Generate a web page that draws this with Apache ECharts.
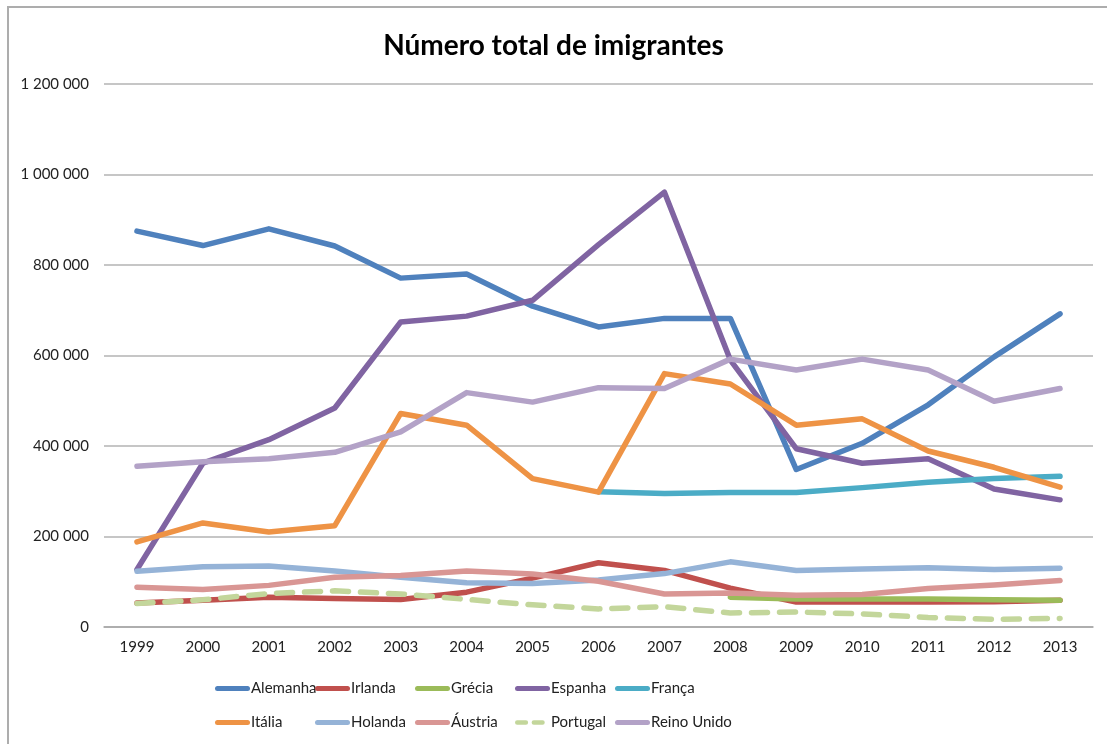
<!DOCTYPE html>
<html>
<head>
<meta charset="utf-8">
<script src="https://cdn.jsdelivr.net/npm/echarts@6/dist/echarts.min.js"></script>
<style>
  html, body { margin: 0; padding: 0; background: #ffffff; }
  #chart { width: 1107px; height: 744px; }
</style>
</head>
<body>
<div id="chart"></div>
<script>
// Anos
const years = ['1999','2000','2001','2002','2003','2004','2005','2006','2007','2008','2009','2010','2011','2012','2013'];

// Número total de imigrantes por país
const alemanha   = [875000, 843000, 880000, 842000, 771000, 780000, 709000, 663000, 682000, 682000, 348000, 406000, 491000, 597000, 692000];
const irlanda    = [53000, 59000, 66000, 63000, 61000, 77000, 108000, 142000, 125000, 86000, 55000, 55000, 55000, 56000, 59000];
const grecia     = [null, null, null, null, null, null, null, null, null, 66000, 62000, 62000, 62000, 60000, 59000];
const espanha    = [127000, 362000, 414000, 484000, 674000, 687000, 722000, 845000, 961000, 590000, 394000, 362000, 372000, 305000, 281000];
const franca     = [null, null, null, null, null, null, null, 299000, 295000, 297000, 297000, 308000, 320000, 328000, 333000];
const italia     = [188000, 230000, 210000, 224000, 472000, 446000, 328000, 298000, 560000, 537000, 446000, 460000, 389000, 353000, 309000];
const holanda    = [123000, 133000, 135000, 124000, 110000, 98000, 96000, 104000, 118000, 144000, 125000, 128000, 131000, 127000, 130000];
const austria    = [88000, 83000, 92000, 110000, 114000, 124000, 117000, 101000, 73000, 75000, 70000, 72000, 85000, 93000, 103000];
const portugal   = [52000, 60000, 74000, 80000, 73000, 61000, 49000, 40000, 45000, 31000, 33000, 29000, 21000, 17000, 19000];
const reinoUnido = [355000, 365000, 372000, 386000, 431000, 518000, 497000, 529000, 527000, 592000, 568000, 592000, 568000, 499000, 527000];

const yTicks = [0, 200000, 400000, 600000, 800000, 1000000, 1200000];

const seriesDefs = [
  { name: 'Alemanha',    data: alemanha,   color: '#4F81BD' },
  { name: 'Irlanda',     data: irlanda,    color: '#C0504D' },
  { name: 'Grécia',      data: grecia,     color: '#9BBB59' },
  { name: 'Espanha',     data: espanha,    color: '#8064A2' },
  { name: 'França',      data: franca,     color: '#4BACC6' },
  { name: 'Itália',      data: italia,     color: '#EE9345' },
  { name: 'Holanda',     data: holanda,    color: '#95B3D7' },
  { name: 'Áustria',     data: austria,    color: '#D99694' },
  { name: 'Portugal',    data: portugal,   color: '#C3D69B', dashed: true },
  { name: 'Reino Unido', data: reinoUnido, color: '#B3A2C7' }
];

const FONT = 'Lato, "Open Sans", sans-serif';

// legend swatches: a thick bar, or two short dashes for the dashed series
const ICON_SOLID = 'path://M2.5,0 L32.5,0 Q35,0 35,2.5 Q35,5 32.5,5 L2.5,5 Q0,5 0,2.5 Q0,0 2.5,0 Z';
const ICON_DASHED = 'path://M2.5,0 L12.5,0 Q15,0 15,2.5 Q15,5 12.5,5 L2.5,5 Q0,5 0,2.5 Q0,0 2.5,0 Z M21.5,0 L31.5,0 Q34,0 34,2.5 Q34,5 31.5,5 L21.5,5 Q19,5 19,2.5 Q19,0 21.5,0 Z M40,0 L40,5 L40,5 Z';

function fmt(v) {
  return String(v).replace(/\B(?=(\d{3})+(?!\d))/g, ' ');
}

// one legend block per entry, laid out on a 5-column, 2-row grid
const legends = seriesDefs.map((s, i) => ({
  data: [{ name: s.name, icon: s.dashed ? ICON_DASHED : ICON_SOLID }],
  left: 215 + (i % 5) * 100,
  top: i < 5 ? 681 : 715,
  padding: 0,
  itemWidth: 35,
  itemHeight: 5,
  itemGap: 0,
  selectedMode: false,
  itemStyle: { color: s.color, borderWidth: 0 },
  textStyle: { fontFamily: FONT, fontSize: 15, color: '#222', padding: [0, 0, 0, -4] }
}));

const chart = echarts.init(document.getElementById('chart'), null, { renderer: 'canvas' });

chart.setOption({
  animation: false,
  backgroundColor: '#ffffff',
  title: {
    text: 'Número total de imigrantes',
    left: 'center',
    top: 27,
    textStyle: { fontFamily: FONT, fontSize: 28, fontWeight: 'bold', color: '#000' }
  },
  graphic: [
    {
      type: 'rect',
      shape: { x: 8, y: 7, width: 1130, height: 780 },
      style: { fill: 'none', stroke: '#adadad', lineWidth: 2 },
      silent: true
    }
  ],
  legend: legends,
  grid: { left: 104, right: 14, top: 84, bottom: 117, containLabel: false },
  xAxis: {
    type: 'category',
    data: years,
    boundaryGap: true,
    axisLine: { lineStyle: { color: '#a6a6a6', width: 1.5 } },
    axisTick: { show: false },
    axisLabel: { fontFamily: FONT, fontSize: 15, color: '#222', margin: 13 }
  },
  yAxis: {
    type: 'value',
    min: yTicks[0],
    max: yTicks[yTicks.length - 1],
    interval: yTicks[1] - yTicks[0],
    axisLine: { show: false },
    axisTick: { show: false },
    splitLine: { lineStyle: { color: '#b3b3b3', width: 1.5 } },
    axisLabel: { fontFamily: FONT, fontSize: 15, color: '#222', margin: 15, formatter: fmt }
  },
  series: seriesDefs.map(s => ({
    name: s.name,
    type: 'line',
    data: s.data,
    symbol: 'none',
    connectNulls: false,
    color: s.color,
    lineStyle: {
      color: s.color,
      width: 5.5,
      cap: 'round',
      join: 'round',
      type: s.dashed ? [16, 12] : 'solid'
    },
    emphasis: { disabled: true }
  }))
});
</script>
</body>
</html>
